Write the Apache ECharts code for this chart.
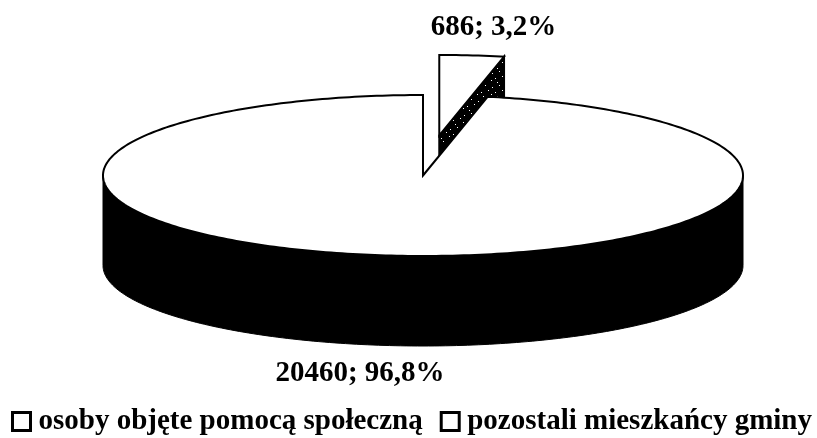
<!DOCTYPE html>
<html>
<head>
<meta charset="utf-8">
<style>html,body{margin:0;padding:0;background:#fff}#chart{width:817px;height:438px}</style>
<script src="https://cdn.jsdelivr.net/npm/echarts@6/dist/echarts.min.js"></script>
</head>
<body>
<div id="chart"></div>
<script>
var names = ['osoby objęte pomocą społeczną', 'pozostali mieszkańcy gminy'];
var values = [686, 20460];

// geometry of the tilted pie
var cx = 423, cy = 175.5, rx = 320, ry = 80.5, depth = 90, explode = 0.5;
var font = 'bold 29px "Liberation Serif"';
var labelPos = [[493.5, 28], [360, 374]];

var total = values[0] + values[1];
var rad = Math.PI / 180;

// speckle for the dark cut face
var speckle = document.createElement('canvas');
speckle.width = 14; speckle.height = 14;
var sc = speckle.getContext('2d');
sc.fillStyle = '#000'; sc.fillRect(0, 0, 14, 14);
sc.fillStyle = '#fff';
[[2, 3], [9, 1], [5, 8], [12, 6], [7, 12], [1, 10]].forEach(function(p) { sc.fillRect(p[0], p[1], 1, 1); });

function rim(ox, oy, deg) {
	return [ox + rx * Math.sin(deg * rad), oy - ry * Math.cos(deg * rad)];
}
function arc(ox, oy, from, to) {
	var pts = [];
	var step = from < to ? 1 : -1;
	for (var d = from; step > 0 ? d < to : d > to; d += step) pts.push(rim(ox, oy, d));
	pts.push(rim(ox, oy, to));
	return pts;
}
function label(i) {
	return values[i] + '; ' + (values[i] / total * 100).toFixed(1).replace('.', ',') + '%';
}

function renderSlice(index, from, to) {
	return function() {
		var mid = (from + to) / 2;
		var ox = cx, oy = cy;
		if (index === 0) {
			ox += explode * rx * Math.sin(mid * rad);
			oy -= explode * ry * Math.cos(mid * rad);
		}
		var children = [];
		// outer wall, only the part that faces the viewer
		var a = Math.max(from, 90), b = Math.min(to, 270);
		if (a < b) {
			children.push({
				type: 'polygon',
				shape: { points: arc(ox, oy, a, b).concat(arc(ox, oy + depth, b, a)) },
				style: { fill: '#000', stroke: '#000', lineWidth: 1 }
			});
		}
		// cut face of the pulled out slice
		if (index === 0) {
			var e = rim(ox, oy, to);
			children.push({
				type: 'polygon',
				shape: { points: [[ox, oy], e, [e[0], e[1] + depth], [ox, oy + depth]] },
				style: { fill: { image: speckle, repeat: 'repeat' }, stroke: '#000', lineWidth: 2 }
			});
		}
		// top
		children.push({
			type: 'polygon',
			shape: { points: [[ox, oy]].concat(arc(ox, oy, from, to)) },
			style: { fill: '#fff', stroke: '#000', lineWidth: 2 }
		});
		children.push({
			type: 'text',
			z2: 10,
			style: {
				x: labelPos[index][0], y: labelPos[index][1],
				text: label(index), font: font, fill: '#000',
				align: 'center', verticalAlign: 'middle'
			}
		});
		return { type: 'group', children: children };
	};
}

var split = values[0] / total * 360;
var myChart = echarts.init(document.getElementById('chart'));
var option = {
	animation: false,
	backgroundColor: '#fff',
	legend: {
		left: 11,
		top: 407,
		padding: 0,
		itemWidth: 18,
		itemHeight: 18,
		itemGap: 17,
		icon: 'rect',
		selectedMode: false,
		textStyle: { fontFamily: 'Liberation Serif', fontWeight: 'bold', fontSize: 29, color: '#000', padding: [0, 0, 0, 3] },
		data: names.map(function(n) {
			return { name: n, itemStyle: { color: '#fff', borderColor: '#000', borderWidth: 3 } };
		})
	},
	series: [
		{ type: 'custom', name: names[0], coordinateSystem: 'none', silent: true, data: [values[0]],
		  itemStyle: { color: '#fff' }, renderItem: renderSlice(0, 0, split) },
		{ type: 'custom', name: names[1], coordinateSystem: 'none', silent: true, data: [values[1]],
		  itemStyle: { color: '#fff' }, renderItem: renderSlice(1, split, 360) }
	]
};
myChart.setOption(option);
</script>
</body>
</html>
